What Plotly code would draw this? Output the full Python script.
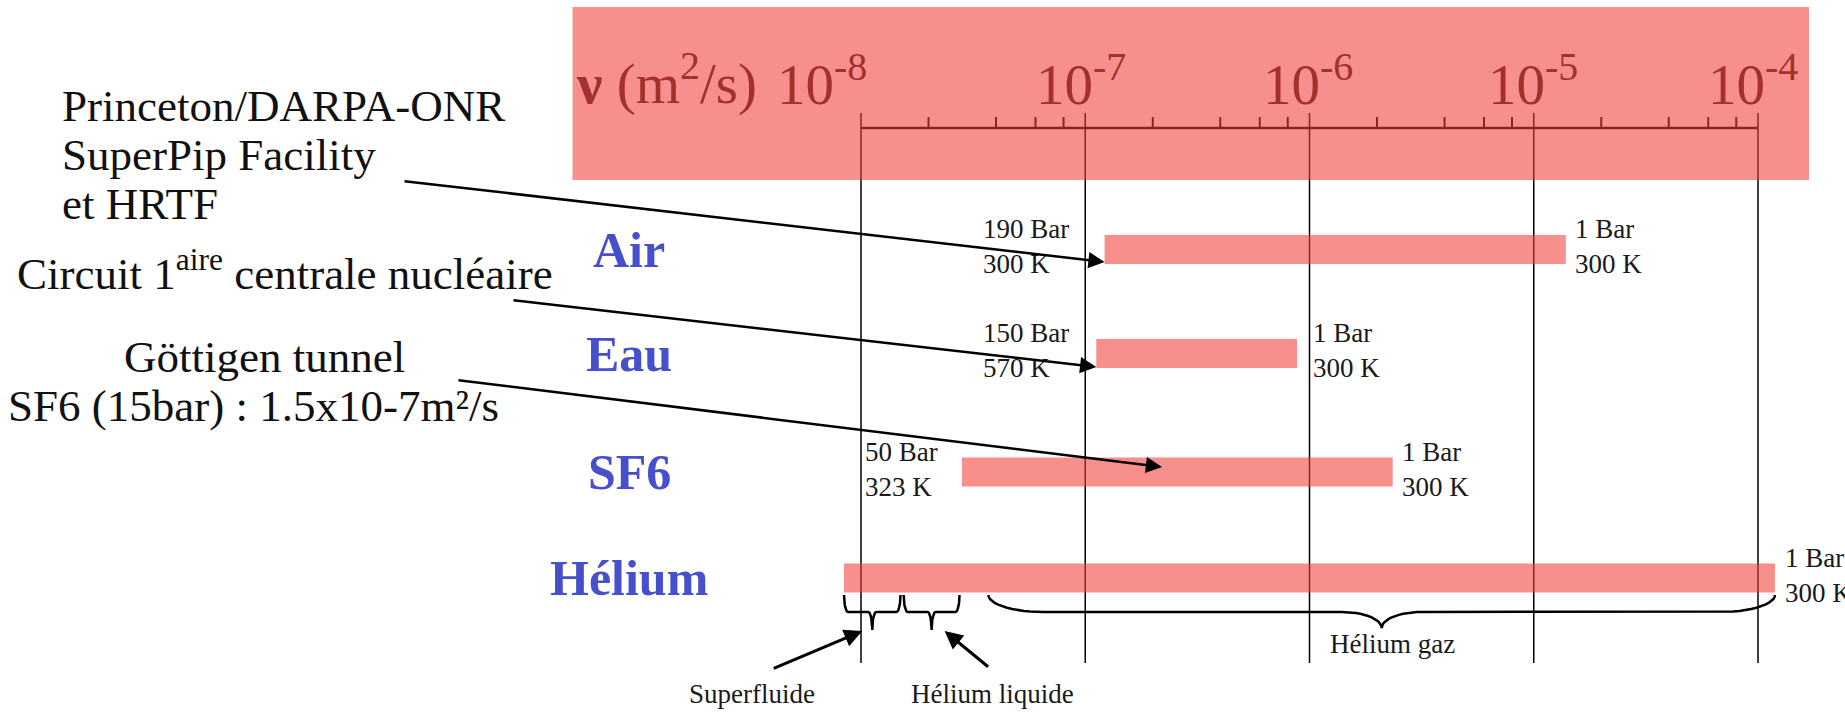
import numpy as np
import plotly.graph_objects as go

W, H = 1845, 717

# ---------------- data ----------------
fluids = ["Air", "Eau", "SF6", "Hélium"]
nu_min = [1.22e-7, 1.12e-7, 2.82e-8, 8.4e-9]      # m2/s
nu_max = [1.39e-5, 8.8e-7, 2.35e-6, 1.19e-4]      # m2/s
cond_at_min = ["190 Bar<br>300 K", "150 Bar<br>570 K", "50 Bar<br>323 K", ""]
cond_at_max = ["1 Bar<br>300 K", "1 Bar<br>300 K", "1 Bar<br>300 K", "1 Bar<br>300 K"]

decades = [1e-8, 1e-7, 1e-6, 1e-5, 1e-4]
decade_labels = ["10<sup>-8</sup>", "10<sup>-7</sup>", "10<sup>-6</sup>", "10<sup>-5</sup>", "10<sup>-4</sup>"]
minor_mult = [2, 4, 6, 8]

phases = ["Superfluide", "Hélium liquide", "Hélium gaz"]
phase_min = [8.4e-9, 1.55e-8, 3.7e-8]
phase_max = [1.5e-8, 2.75e-8, 1.19e-4]

facility_lines = [
    ["Princeton/DARPA-ONR", "SuperPip Facility", "et HRTF"],
    ["Circuit 1<sup>aire</sup> centrale nucléaire"],
    ["Göttigen tunnel", "SF6 (15bar) : 1.5x10-7m²/s"],
]
facility_nu = [1.22e-7, 1.12e-7, 2.2e-7]

# ---------------- layout constants (pixels) ----------------
PX_1E8 = 861.0       # pixel of 1e-8
PX_DEC = 224.25      # pixels per decade
x_range = [-8 - PX_1E8 / PX_DEC, -8 + (W - PX_1E8) / PX_DEC]

def nu2px(v):
    return PX_1E8 + PX_DEC * (np.log10(v) + 8)

def px2nu(p):
    return 10 ** (-8 + (np.asarray(p) - PX_1E8) / PX_DEC)

ROW_Y = [249.5, 353.5, 472, 578]
BAR_H = 29
AXIS_Y = 128
MAJ_TOP = 113
MIN_TOP = 117
GRID_BOTTOM = 663

SERIF = "Liberation Serif"
OVER = "rgba(242,62,56,0.58)"
HEAD_TXT = "#A3302C"
BLUE = "#4650CC"
HF = 57   # header font size
LF = 45   # left text font size
SF = 27   # small text font size

fig = go.Figure()

# grid / axis lines (black, tinted by overlay inside the header)
gx, gy = [], []
for d in decades:
    gx += [d, d, None]
    gy += [MAJ_TOP, GRID_BOTTOM, None]
fig.add_trace(go.Scatter(x=gx, y=gy, mode="lines", line=dict(color="black", width=1.5),
                         hoverinfo="skip", showlegend=False))
fig.add_trace(go.Scatter(x=[decades[0], decades[-1]], y=[AXIS_Y, AXIS_Y], mode="lines",
                         line=dict(color="black", width=2.5), hoverinfo="skip", showlegend=False))
mx, my = [], []
for d in decades[:-1]:
    for m in minor_mult:
        mx += [m * d, m * d, None]
        my += [MIN_TOP, AXIS_Y, None]
fig.add_trace(go.Scatter(x=mx, y=my, mode="lines", line=dict(color="black", width=2),
                         hoverinfo="skip", showlegend=False))

# bars (translucent so the grid shows through)
for name, lo, hi, yc in zip(fluids, nu_min, nu_max, ROW_Y):
    y0, y1 = yc - BAR_H / 2, yc + BAR_H / 2
    fig.add_trace(go.Scatter(x=[lo, hi, hi, lo, lo], y=[y0, y0, y1, y1, y0], mode="lines",
                             fill="toself", fillcolor=OVER, line=dict(width=0),
                             name=name, hoverinfo="name", showlegend=False))

# braces under the helium bar
def brace(lo, hi, top, mid, bot, r, c, n=14):
    p0, p1 = nu2px(lo), nu2px(hi)
    xc = (p0 + p1) / 2
    th = np.linspace(0, np.pi / 2, n)
    lx = list(p0 + r * (1 - np.cos(th))) + list(xc - c + c * np.sin(th))
    ly = list(top + (mid - top) * np.sin(th)) + list(mid + (bot - mid) * (1 - np.cos(th)))
    rx = [2 * xc - v for v in reversed(lx)]
    ry = list(reversed(ly))
    return list(px2nu(lx + rx)), ly + ry

brace_style = [(595, 612, 630, 4, 4), (595, 612, 630, 4, 4), (595, 612, 628, 55, 40)]
for lo, hi, st in zip(phase_min, phase_max, brace_style):
    bx, by = brace(lo, hi, *st)
    fig.add_trace(go.Scatter(x=bx, y=by, mode="lines", line=dict(color="black", width=2.5),
                             hoverinfo="skip", showlegend=False))

# header overlay box
fig.add_shape(type="rect", xref="paper", yref="y", x0=572.5 / W, x1=1809 / W, y0=7, y1=180,
              fillcolor=OVER, line=dict(width=0), layer="above")

ann = []
HEAD_BASE = 104
ann.append(dict(xref="paper", yref="y", x=574 / W, y=HEAD_BASE + 0.216 * HF + 2, xanchor="left",
                yanchor="bottom", text="<b>ν</b> (m<sup>2</sup>/s)", showarrow=False,
                font=dict(family=SERIF, size=HF, color=HEAD_TXT)))
label_shift = [-86, -51, -49, -48, -52]
for d, lab, sh in zip(decades, decade_labels, label_shift):
    ann.append(dict(xref="x", yref="y", x=np.log10(d), y=HEAD_BASE + 0.216 * HF + 2, xanchor="left",
                    yanchor="bottom", xshift=sh, text=lab, showarrow=False,
                    font=dict(family=SERIF, size=HF, color=HEAD_TXT)))

# fluid names
for name, yc in zip(fluids, ROW_Y):
    ann.append(dict(xref="paper", yref="y", x=629 / W, y=yc, xanchor="center", yanchor="middle",
                    text="<b>" + name + "</b>", showarrow=False,
                    font=dict(family=SERIF, size=50, color=BLUE)))

# conditions at bar ends
shift_min = [-34, -25, -22, 0]
shift_max = [7, 14, 7, 8]
for lo, hi, yc, t0, t1, s0, s1 in zip(nu_min, nu_max, ROW_Y, cond_at_min, cond_at_max, shift_min, shift_max):
    if t0:
        ann.append(dict(xref="x", yref="y", x=np.log10(lo), y=yc - 3, xanchor="right", yanchor="middle",
                        xshift=s0, align="left", text=t0, showarrow=False,
                        font=dict(family=SERIF, size=SF, color="#1a1a1a")))
    ann.append(dict(xref="x", yref="y", x=np.log10(hi), y=yc - 3, xanchor="left", yanchor="middle",
                    xshift=s1, align="left", text=t1, showarrow=False,
                    font=dict(family=SERIF, size=SF, color="#1a1a1a")))

# facility texts (left); positions given as (left px, cap-centre px)
fac_pos = [[(60, 106), (60, 155), (60, 204)], [(15, 274)], [(122, 357), (6, 406)]]
for lines, pos in zip(facility_lines, fac_pos):
    for t, (px, cy) in zip(lines, pos):
        ann.append(dict(xref="paper", yref="y", x=px / W, y=cy + 0.33 * LF + 0.216 * LF + 2,
                        xanchor="left", yanchor="bottom", text=t, showarrow=False,
                        font=dict(family=SERIF, size=LF, color="#111111")))

# facility arrows
tip_y = [262, 367, 467]
tails = [(403, 181), (512, 300), (457, 380)]
for v, ty, (tx, tyy) in zip(facility_nu, tip_y, tails):
    ann.append(dict(xref="x", yref="y", x=np.log10(v), y=ty, text="", showarrow=True,
                    ax=tx - nu2px(v), ay=tyy - ty, arrowhead=2, arrowsize=1.3, arrowwidth=2.5,
                    arrowcolor="black", standoff=0))

# phase labels and arrows
mid_log = [(np.log10(a) + np.log10(b)) / 2 for a, b in zip(phase_min, phase_max)]
ann.append(dict(xref="paper", yref="y", x=752 / W, y=703 + 0.216 * SF + 2, xanchor="center", yanchor="bottom",
                text=phases[0], showarrow=False, font=dict(family=SERIF, size=SF, color="#1a1a1a")))
ann.append(dict(xref="paper", yref="y", x=992 / W, y=703 + 0.216 * SF + 2, xanchor="center", yanchor="bottom",
                text=phases[1], showarrow=False, font=dict(family=SERIF, size=SF, color="#1a1a1a")))
ann.append(dict(xref="x", yref="y", x=mid_log[2], y=653 + 0.216 * SF + 2, xanchor="center", yanchor="bottom",
                xshift=11, text=phases[2], showarrow=False, font=dict(family=SERIF, size=SF, color="#1a1a1a")))
ann.append(dict(xref="x", yref="y", x=mid_log[0], y=631, xshift=-10, text="", showarrow=True,
                ax=-90, ay=38, arrowhead=2, arrowsize=1.2, arrowwidth=3, arrowcolor="black", standoff=0))
ann.append(dict(xref="x", yref="y", x=mid_log[1], y=631, xshift=13, text="", showarrow=True,
                ax=45, ay=37, arrowhead=2, arrowsize=1.2, arrowwidth=3, arrowcolor="black", standoff=0))

fig.update_layout(
    width=W, height=H, margin=dict(l=0, r=0, t=0, b=0),
    paper_bgcolor="white", plot_bgcolor="white",
    xaxis=dict(type="log", range=x_range, visible=False, fixedrange=True),
    yaxis=dict(range=[H, 0], visible=False, fixedrange=True),
    annotations=ann, showlegend=False,
)

fig.write_html("out.html", config={"displayModeBar": False})
